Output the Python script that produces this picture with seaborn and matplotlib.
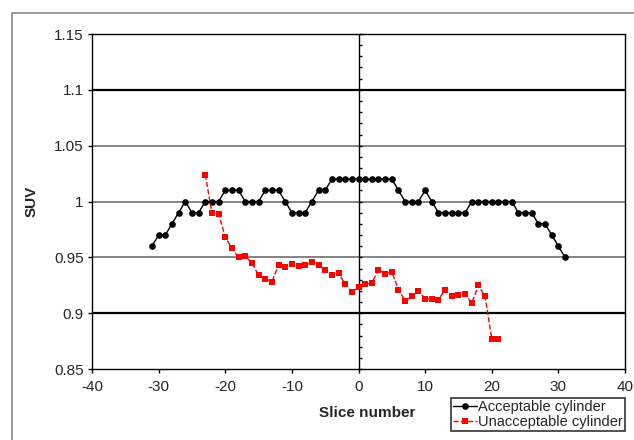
import numpy as np
import pandas as pd
import seaborn as sns
import matplotlib.pyplot as plt
from matplotlib.patches import Rectangle
from matplotlib.ticker import MultipleLocator, NullLocator

# slice numbers and SUV values
acc_slices = list(range(-31, 32))
acc_suv = [0.96, 0.97, 0.97, 0.98, 0.99, 1.00, 0.99, 0.99, 1.00, 1.00,
           1.00, 1.01, 1.01, 1.01, 1.00, 1.00, 1.00, 1.01, 1.01, 1.01,
           1.00, 0.99, 0.99, 0.99, 1.00, 1.01, 1.01, 1.02, 1.02, 1.02,
           1.02, 1.02, 1.02, 1.02, 1.02, 1.02, 1.02, 1.01, 1.00, 1.00,
           1.00, 1.01, 1.00, 0.99, 0.99, 0.99, 0.99, 0.99, 1.00, 1.00,
           1.00, 1.00, 1.00, 1.00, 1.00, 0.99, 0.99, 0.99, 0.98, 0.98,
           0.97, 0.96, 0.95]

unacc_slices = list(range(-23, 22))
unacc_suv = [1.024, 0.990, 0.989, 0.968, 0.958, 0.950, 0.951, 0.945, 0.934, 0.931,
             0.928, 0.943, 0.941, 0.944, 0.942, 0.943, 0.946, 0.943, 0.939, 0.934,
             0.936, 0.926, 0.919, 0.923, 0.926, 0.927, 0.939, 0.935, 0.937, 0.921,
             0.911, 0.915, 0.920, 0.913, 0.913, 0.912, 0.921, 0.915, 0.916, 0.917,
             0.909, 0.925, 0.915, 0.877, 0.877]

df_acc = pd.DataFrame({'Slice number': acc_slices, 'SUV': acc_suv})
df_unacc = pd.DataFrame({'Slice number': unacc_slices, 'SUV': unacc_suv})

sns.set_style("white")
plt.rcParams['font.family'] = ['Liberation Sans', 'DejaVu Sans']
plt.rcParams['axes.unicode_minus'] = False

fig = plt.figure(figsize=(6.34, 4.40), dpi=100)
ax_l, ax_b, ax_w, ax_h = 92 / 634, 1 - 369 / 440, 533 / 634, 335 / 440
ax = fig.add_axes([ax_l, ax_b, ax_w, ax_h])

# outer gray frame (only left/top visible in the original)
fig.patches.append(Rectangle((12 / 634, -0.1), 1.2, 1 - 13 / 440 + 0.1,
                             transform=fig.transFigure, fill=False,
                             edgecolor='#8a8a8a', linewidth=1.2, zorder=0))

sns.lineplot(data=df_acc, x='Slice number', y='SUV', ax=ax, color='black',
             marker='o', markersize=4.8, markeredgewidth=0, linewidth=1,
             label='Acceptable cylinder')
sns.lineplot(data=df_unacc, x='Slice number', y='SUV', ax=ax, color='red',
             marker='s', markersize=5, markeredgewidth=0, linewidth=1,
             linestyle='--', dashes=(4, 2), label='Unacceptable cylinder')

ax.set_xlim(-40, 40)
ax.set_ylim(0.85, 1.15)
ax.set_xticks(np.arange(-40, 41, 10))
ax.set_yticks([0.85, 0.9, 0.95, 1.0, 1.05, 1.1, 1.15])
ax.set_yticklabels(['0.85', '0.9', '0.95', '1', '1.05', '1.1', '1.15'])
ax.tick_params(axis='both', direction='out', length=3, width=1, color='black',
               labelsize=11, left=True, bottom=True)
ax.tick_params(axis='x', pad=5)
ax.tick_params(axis='y', pad=3)

for sp in ax.spines.values():
    sp.set_color('black')
    sp.set_linewidth(1)

# horizontal gridlines
for y in [1.05, 1.0, 0.95]:
    ax.axhline(y, color='#7a7a7a', linewidth=1.3, zorder=1)
for y in [1.1, 0.9]:
    ax.axhline(y, color='black', linewidth=1.6, zorder=1)

# vertical axis crossing at x = 0, minor ticks pointing right
ax.axvline(0, color='black', linewidth=1, zorder=1)
x0 = ax_l + ax_w * (0 - (-40)) / 80
ax0 = fig.add_axes([x0, ax_b, 1e-6, ax_h])
ax0.set_ylim(0.85, 1.15)
ax0.set_xticks([])
ax0.yaxis.set_major_locator(NullLocator())
ax0.yaxis.set_minor_locator(MultipleLocator(0.01))
ax0.tick_params(which='minor', direction='in', length=2.5, width=1,
                color='black', left=True, right=False)
ax0.patch.set_visible(False)
for sp in ax0.spines.values():
    sp.set_visible(False)

ax.set_xlabel('Slice number', fontsize=11, fontweight='bold')
ax.set_ylabel('SUV', fontsize=11, fontweight='bold')
ax.xaxis.set_label_coords(0.517, -0.11)
ax.yaxis.set_label_coords(-0.101, 0.5)

leg = ax.legend(loc='lower right', bbox_to_anchor=(625 / 634, 9 / 440),
                bbox_transform=fig.transFigure, fontsize=10.5, frameon=True,
                fancybox=False, handlelength=1.6, handletextpad=0.1,
                borderpad=0.15, labelspacing=0.05, borderaxespad=0)
leg.get_frame().set_edgecolor('black')
leg.get_frame().set_linewidth(1.2)

fig.savefig('out.png', dpi=100)
